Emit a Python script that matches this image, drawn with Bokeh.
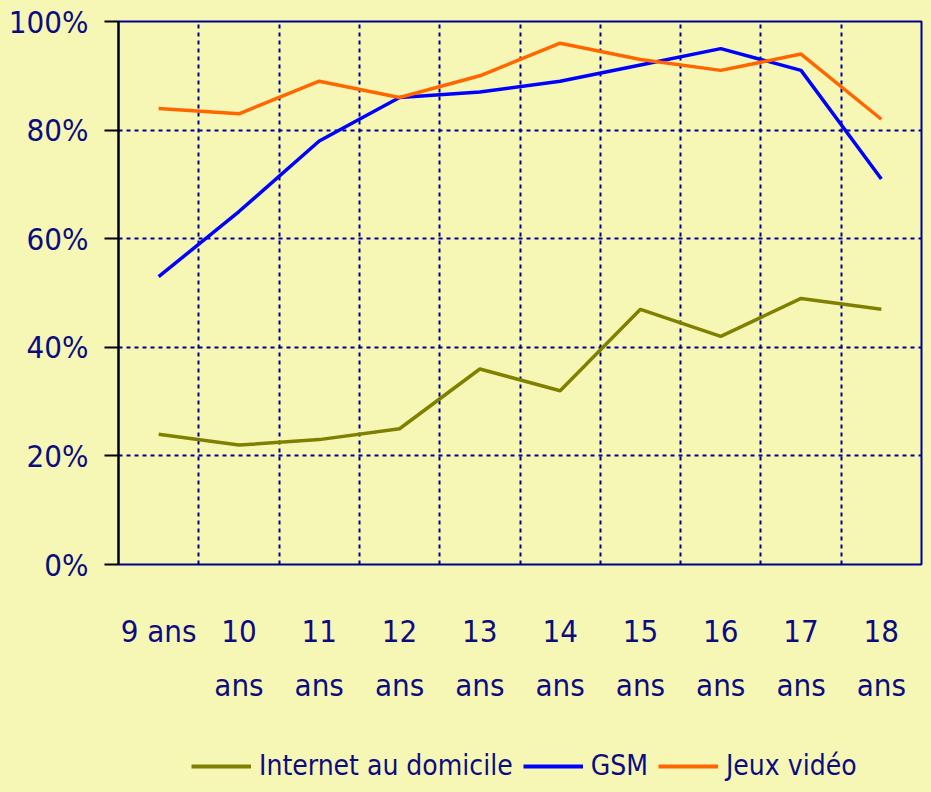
from bokeh.plotting import figure
from bokeh.models import Range1d, FixedTicker, PrintfTickFormatter, Legend, LegendItem, LinearAxis
from bokeh.layouts import column
from bokeh.embed import file_html
from bokeh.resources import INLINE

ages = ["9 ans", "10", "11", "12", "13", "14", "15", "16", "17", "18"]
ages_line2 = ["", "ans", "ans", "ans", "ans", "ans", "ans", "ans", "ans", "ans"]
internet = [24, 22, 23, 25, 36, 32, 47, 42, 49, 47]
gsm = [53, 65, 78, 86, 87, 89, 92, 95, 91, 71]
jeux = [84, 83, 89, 86, 90, 96, 93, 91, 94, 82]
series_names = ["Internet au domicile", "GSM", "Jeux vidéo"]
colors = ["#808000", "#0000ff", "#ff6600"]
y_ticks = [0, 20, 40, 60, 80, 100]

FONT = "DejaVu Sans Condensed"
NAVY = "#0c0c80"
BG = "#f7f7b5"
FS = "31px"

xpos = [i + 0.5 for i in range(len(ages))]

p = figure(frame_width=803, frame_height=543, output_backend="svg", toolbar_location=None,
           x_range=Range1d(0, len(ages)), y_range=Range1d(0, 100),
           min_border_left=118, min_border_top=21, min_border_right=2, min_border_bottom=0)
p.background_fill_color = BG
p.border_fill_color = BG
p.outline_line_color = "#000090"
p.outline_line_width = 2

# grid
p.xgrid.ticker = FixedTicker(ticks=[i + 1 for i in range(len(ages))])
p.ygrid.ticker = FixedTicker(ticks=y_ticks)
for g in (p.xgrid, p.ygrid):
    g.grid_line_color = "#000090"
    g.grid_line_width = 2
    g.grid_line_dash = "4 4"

def style_x(ax, labels, standoff):
    ax.ticker = FixedTicker(ticks=xpos)
    ax.major_label_overrides = {x: a for x, a in zip(xpos, labels)}
    ax.axis_line_color = None
    ax.major_tick_line_color = None
    ax.minor_tick_line_color = None
    ax.major_tick_out = 0
    ax.major_tick_in = 0
    ax.major_label_standoff = standoff
    ax.major_label_text_font = FONT
    ax.major_label_text_font_size = FS
    ax.major_label_text_color = NAVY

style_x(p.xaxis[0], ages, 48)
ax2 = LinearAxis()
style_x(ax2, ages_line2, 15)
p.add_layout(ax2, "below")

# y axis
p.yaxis.ticker = FixedTicker(ticks=y_ticks)
p.yaxis.formatter = PrintfTickFormatter(format="%d%%")
p.yaxis.axis_line_color = "black"
p.yaxis.axis_line_width = 2
p.yaxis.major_tick_line_color = "black"
p.yaxis.major_tick_line_width = 2
p.yaxis.major_tick_out = 14
p.yaxis.major_tick_in = 0
p.yaxis.minor_tick_line_color = None
p.yaxis.major_label_standoff = 16
p.yaxis.major_label_text_font = FONT
p.yaxis.major_label_text_font_size = FS
p.yaxis.major_label_text_color = NAVY

for vals, c in zip([internet, gsm, jeux], colors):
    p.line(xpos, vals, line_color=c, line_width=3.5)

# legend strip below the chart (its lines lie outside its visible range)
p2 = figure(width=923, height=78, output_backend="svg", toolbar_location=None,
            x_range=Range1d(0, len(ages)), y_range=Range1d(1000, 1100),
            x_axis_location=None, y_axis_location=None,
            min_border_left=0, min_border_right=0, min_border_top=0, min_border_bottom=0)
p2.background_fill_color = BG
p2.border_fill_color = BG
p2.outline_line_color = None
p2.grid.visible = False
items = []
for vals, c, name in zip([internet, gsm, jeux], colors, series_names):
    r = p2.line(xpos, vals, line_color=c, line_width=4)
    items.append(LegendItem(label=name, renderers=[r]))

legend = Legend(items=items, orientation="horizontal", location=(73, 1))
legend.label_text_font = FONT
legend.label_text_font_size = "28px"
legend.label_text_color = NAVY
legend.glyph_width = 60
legend.glyph_height = 30
legend.label_standoff = 8
legend.spacing = 10
legend.border_line_color = None
legend.background_fill_alpha = 0
legend.padding = 0
legend.margin = 0
p2.add_layout(legend, "center")

layout = column(p, p2, spacing=0)

html = file_html(layout, INLINE)
html = html.replace("<body>", '<body style="background:%s">' % BG)
open("out.html", "w").write(html)
